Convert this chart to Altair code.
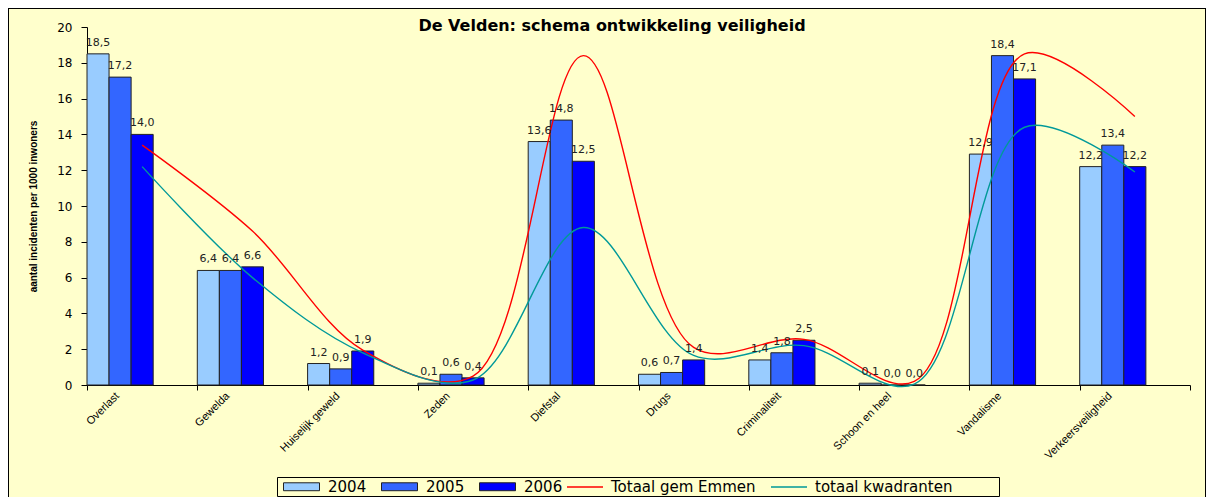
import altair as alt
import pandas as pd

# ---- data ----
chart_title = "De Velden: schema ontwikkeling veiligheid"
y_title = "aantal incidenten per 1000 inwoners"
categories = ["Overlast", "Gewelda", "Huiselijk geweld", "Zeden", "Diefstal",
              "Drugs", "Criminaliteit", "Schoon en heel", "Vandalisme", "Verkeersveiligheid"]
years = ["2004", "2005", "2006"]
v2004 = [18.5, 6.4, 1.2, 0.1, 13.6, 0.6, 1.4, 0.1, 12.9, 12.2]
v2005 = [17.2, 6.4, 0.9, 0.6, 14.8, 0.7, 1.8, 0.0, 18.4, 13.4]
v2006 = [14.0, 6.6, 1.9, 0.4, 12.5, 1.4, 2.5, 0.0, 17.1, 12.2]
series = ["Totaal gem Emmen", "totaal kwadranten"]
emmen = [13.4, 8.6, 1.95, 0.5, 18.4, 2.1, 2.55, 0.2, 18.5, 15.0]
kwadranten = [12.2, 6.0, 1.8, 0.28, 8.8, 1.65, 2.2, 0.05, 14.4, 11.9]
y_ticks = [0, 2, 4, 6, 8, 10, 12, 14, 16, 18, 20]

bar_colors = ["#99CCFF", "#3366FF", "#0000FF"]
line_colors = ["#FF0000", "#009999"]

bars_df = pd.DataFrame(
    [{"cat": c, "year": y, "value": v}
     for y, vals in zip(years, [v2004, v2005, v2006])
     for c, v in zip(categories, vals)]
)
lines_df = pd.DataFrame(
    [{"cat": c, "idx": i, "series": s, "value": v}
     for s, vals in zip(series, [emmen, kwadranten])
     for i, (c, v) in enumerate(zip(categories, vals))]
)
one = pd.DataFrame({"a": [0]})

W, H = 1103, 358
PL, PT, PR, PB = 79, 19, 16, 120

x_scale = alt.Scale(domain=categories, paddingInner=0, paddingOuter=0)
x_axis = alt.Axis(labelAngle=-45, labelAlign="right", labelBaseline="middle",
                  labelFont="Liberation Sans", labelFontSize=11, labelColor="black",
                  labelOffset=-25, labelPadding=4, tickBand="extent", tickSize=5,
                  tickColor="black", domainColor="black", grid=False)
x_enc = alt.X("cat:N", scale=x_scale, axis=x_axis, title=None)
xoff = alt.XOffset("year:N", scale=alt.Scale(domain=years + ["_a", "_b"],
                                             paddingInner=0, paddingOuter=0))
y_axis = alt.Axis(values=y_ticks, labelFont="DejaVu Sans", labelFontSize=12,
                  labelColor="black", tickSize=6, tickColor="black",
                  domainColor="black", grid=False, labelPadding=9,
                  titleFont="Liberation Sans", titleFontSize=10,
                  titleFontWeight="bold", titleColor="black", titlePadding=18)
y_enc = alt.Y("value:Q", scale=alt.Scale(domain=[0, 20], nice=False),
              axis=y_axis, title=y_title)

bars = alt.Chart(bars_df).mark_bar(stroke="#222222", strokeWidth=1).encode(
    x=x_enc, xOffset=xoff, y=y_enc,
    fill=alt.Fill("year:N", scale=alt.Scale(domain=years, range=bar_colors),
                  legend=alt.Legend(title=None, orient="none", legendX=196, legendY=441,
                                    direction="horizontal",
                                    symbolType="M-1,-0.22H1V0.22H-1Z", symbolSize=1296,
                                    symbolStrokeColor="#222222", symbolStrokeWidth=1,
                                    labelFont="DejaVu Sans", labelFontSize=15,
                                    labelColor="black", labelOffset=8,
                                    columnPadding=12, padding=0)),
)

labels = alt.Chart(bars_df).transform_calculate(
    label="replace(format(datum.value, '.1f'), '.', ',')"
).mark_text(font="DejaVu Sans", fontSize=11, color="#222222",
            baseline="alphabetic", dy=-8).encode(
    x=x_enc, xOffset=xoff, y=y_enc, text="label:N"
)

lines = alt.Chart(lines_df).mark_line(interpolate="catmull-rom", strokeWidth=1.4).encode(
    x=x_enc, y=y_enc, order=alt.Order("idx:Q"),
    stroke=alt.Stroke("series:N", scale=alt.Scale(domain=series, range=line_colors),
                      legend=alt.Legend(title=None, orient="none", legendX=479, legendY=441,
                                        direction="horizontal", symbolType="stroke",
                                        symbolSize=1296, symbolStrokeWidth=1.5,
                                        labelFont="DejaVu Sans", labelFontSize=15,
                                        labelColor="black", labelOffset=7,
                                        columnPadding=12, padding=0)),
)

title_mark = alt.Chart(one).mark_text(
    font="DejaVu Sans", fontSize=16, fontWeight="bold", color="black",
    align="center", baseline="alphabetic"
).encode(x=alt.value(525), y=alt.value(4), text=alt.value(chart_title))

# decorative frame (top, left, right) and legend box
frame_left = alt.Chart(one).mark_rule(color="black", strokeWidth=1).encode(
    x=alt.value(-PL + 0.5), y=alt.value(-PT), y2=alt.value(H + PB))
frame_right = alt.Chart(one).mark_rule(color="black", strokeWidth=1).encode(
    x=alt.value(W + PR - 0.5), y=alt.value(-PT), y2=alt.value(H + PB))
frame_top = alt.Chart(one).mark_rule(color="black", strokeWidth=1).encode(
    x=alt.value(-PL), x2=alt.value(W + PR), y=alt.value(-PT + 0.5))
legend_box = alt.Chart(one).mark_rect(fillOpacity=0, stroke="black", strokeWidth=1).encode(
    x=alt.value(190.5), x2=alt.value(912.5), y=alt.value(450.5), y2=alt.value(469.5))

chart = alt.layer(bars, lines, labels, title_mark, frame_left, frame_right, frame_top,
                  legend_box).properties(
    width=W, height=H,
    padding={"left": PL, "top": PT, "right": PR, "bottom": PB},
    autosize=alt.AutoSizeParams(type="none"),
).configure(background="#FFFFCC").configure_view(stroke="transparent")

chart.save("out.html", embed_options={"renderer": "svg", "actions": False})
